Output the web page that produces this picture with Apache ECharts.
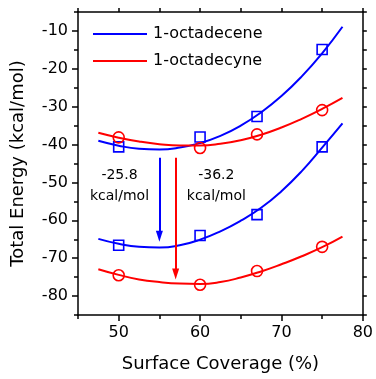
<!DOCTYPE html>
<html>
<head>
	<meta charset="utf-8" />
	<title>Total energy vs surface coverage</title>
	<style type="text/css">
		html, body {
			margin: 0;
			padding: 0;
			background: #fff;
		}

		#main {
			width: 376px;
			height: 379px;
		}
	</style>
	<script src="https://cdn.jsdelivr.net/npm/echarts@6.0.0/dist/echarts.min.js"></script>
</head>
<body>
	<div id="main"></div>
	<script type="text/javascript">

		// fitted curves, every 2.5 %
		const fitX = [47.5, 50, 52.5, 55, 57.5, 60, 62.5, 65, 67.5, 70, 72.5, 75, 77.5];
		const octadeceneTopFit = [-39.0, -40.3, -41.1, -41.3, -40.8, -39.6, -37.7, -35.0, -31.5, -27.2, -22.0, -15.9, -8.9];
		const octadecyneTopFit = [-36.9, -38.2, -39.2, -39.9, -40.25, -40.25, -39.8, -38.85, -37.4, -35.5, -33.2, -30.6, -27.7];
		const octadeceneLowFit = [-64.9, -66.2, -67.0, -67.2, -66.6, -65.1, -62.9, -60.1, -56.7, -52.3, -47.0, -40.8, -34.4];
		const octadecyneLowFit = [-72.9, -74.4, -75.6, -76.3, -76.7, -76.8, -76.3, -75.1, -73.5, -71.6, -69.5, -67.1, -64.3];

		// computed points
		const pointX = [50, 60, 67, 75];
		const octadeceneTop = [-40.6, -38.0, -32.6, -14.9];
		const octadecyneTop = [-38.1, -40.9, -37.3, -30.9];
		const octadeceneLow = [-66.6, -64.0, -58.5, -40.6];
		const octadecyneLow = [-74.5, -77.0, -73.4, -67.0];

		// arrows and their notes
		const blueArrow = [[55, -43.5], [55, -64.2]];
		const redArrow = [[57, -43.5], [57, -74.2]];
		const notes = [
			{ name: '-25.8\nkcal/mol', value: [50.1, -50.9] },
			{ name: '-36.2\nkcal/mol', value: [62.0, -50.9] }
		];

		const xLabels = [50, 60, 70, 80];
		const xMinor = [45, 55, 65, 75];
		const yLabels = [-80, -70, -60, -50, -40, -30, -20, -10];
		const yMinor = [-85, -75, -65, -55, -45, -35, -25, -15, -5];

		const BLUE = '#0000ff';
		const RED = '#ff0000';
		const FONT = 'DejaVu Sans';

		const pair = (xs, ys) => xs.map((x, i) => [x, ys[i]]);

		const fit = (name, color, ys) => ({
			name: name,
			type: 'line',
			data: pair(fitX, ys),
			smooth: true,
			symbol: 'none',
			lineStyle: { color: color, width: 2 },
			itemStyle: { color: color },
			animation: false,
			z: 2
		});

		const points = (name, color, shape, size, ys) => ({
			name: name,
			type: 'scatter',
			data: pair(pointX, ys),
			symbol: shape,
			symbolSize: size,
			itemStyle: { color: 'rgba(0,0,0,0)', borderColor: color, borderWidth: 1.6, opacity: 1 },
			animation: false,
			z: 3
		});

		const arrow = (color, coords) => ({
			type: 'line',
			data: [],
			animation: false,
			markLine: {
				silent: true,
				animation: false,
				symbol: ['none', 'triangle'],
				symbolSize: [7, 11],
				label: { show: false },
				lineStyle: { color: color, width: 2, type: 'solid' },
				data: [[{ coord: coords[0] }, { coord: coords[1] }]]
			}
		});

		const baseAxisLine = { show: true, onZero: false, lineStyle: { color: '#000', width: 1.5 } };

		const options = {
			animation: false,
			grid: { left: 78, right: 11, top: 12, bottom: 64 },
			legend: {
				data: ['1-octadecene', '1-octadecyne'],
				orient: 'vertical',
				left: 93,
				top: 26,
				padding: 0,
				icon: 'rect',
				itemWidth: 54,
				itemHeight: 2,
				itemGap: 11,
				textStyle: { fontFamily: FONT, fontSize: 16, color: '#000', lineHeight: 16, padding: [0, 0, 0, 1] }
			},
			xAxis: [
				{
					type: 'value',
					min: 45,
					max: 80,
					interval: 5,
					position: 'bottom',
					name: 'Surface Coverage (%)',
					nameLocation: 'middle',
					nameGap: 40,
					nameTextStyle: { fontFamily: FONT, fontSize: 18, color: '#000' },
					axisLine: baseAxisLine,
					axisTick: { show: true, inside: false, length: 6, customValues: xLabels, lineStyle: { color: '#000', width: 1.5 } },
					axisLabel: {
						fontFamily: FONT, fontSize: 16, color: '#000', margin: 10,
						customValues: xLabels,
						formatter: (v) => (v % 10 === 0 ? v : '')
					},
					splitLine: { show: false }
				},
				{
					// minor ticks on the bottom
					type: 'value',
					min: 45,
					max: 80,
					position: 'bottom',
					axisLine: { show: false },
					axisTick: { show: true, length: 4, customValues: xMinor, lineStyle: { color: '#000', width: 1.5 } },
					axisLabel: { show: false },
					splitLine: { show: false }
				},
				{
					// mirror frame on top
					type: 'value',
					min: 45,
					max: 80,
					interval: 5,
					position: 'top',
					axisLine: baseAxisLine,
					axisTick: { show: true, length: 4, lineStyle: { color: '#000', width: 1.5 } },
					axisLabel: { show: false },
					splitLine: { show: false }
				}
			],
			yAxis: [
				{
					type: 'value',
					min: -85,
					max: -5,
					interval: 5,
					position: 'left',
					name: 'Total Energy (kcal/mol)',
					nameLocation: 'middle',
					nameGap: 51,
					nameTextStyle: { fontFamily: FONT, fontSize: 18, color: '#000' },
					axisLine: baseAxisLine,
					axisTick: { show: true, length: 6, customValues: yLabels, lineStyle: { color: '#000', width: 1.5 } },
					axisLabel: {
						fontFamily: FONT, fontSize: 16, color: '#000', margin: 10,
						customValues: yLabels,
						formatter: (v) => (v % 10 === 0 ? v : '')
					},
					splitLine: { show: false }
				},
				{
					// minor ticks on the left
					type: 'value',
					min: -85,
					max: -5,
					position: 'left',
					axisLine: { show: false },
					axisTick: { show: true, length: 4, customValues: yMinor, lineStyle: { color: '#000', width: 1.5 } },
					axisLabel: { show: false },
					splitLine: { show: false }
				},
				{
					// mirror frame on the right
					type: 'value',
					min: -85,
					max: -5,
					interval: 5,
					position: 'right',
					axisLine: baseAxisLine,
					axisTick: { show: true, length: 4, lineStyle: { color: '#000', width: 1.5 } },
					axisLabel: { show: false },
					splitLine: { show: false }
				}
			],
			series: [
				fit('1-octadecene', BLUE, octadeceneTopFit),
				fit('1-octadecene', BLUE, octadeceneLowFit),
				fit('1-octadecyne', RED, octadecyneTopFit),
				fit('1-octadecyne', RED, octadecyneLowFit),
				points('octadecene top', BLUE, 'rect', 10, octadeceneTop),
				points('octadecene low', BLUE, 'rect', 10, octadeceneLow),
				points('octadecyne top', RED, 'circle', 11, octadecyneTop),
				points('octadecyne low', RED, 'circle', 11, octadecyneLow),
				arrow(BLUE, blueArrow),
				arrow(RED, redArrow),
				{
					name: 'notes',
					type: 'scatter',
					data: notes,
					symbolSize: 0,
					silent: true,
					itemStyle: { opacity: 1 },
					label: {
						show: true,
						position: 'inside',
						formatter: (p) => p.name,
						fontFamily: FONT,
						fontSize: 14,
						lineHeight: 21,
						color: '#000',
						opacity: 1,
						align: 'center'
					}
				}
			]
		};

		const myChart = echarts.init(document.getElementById('main'), null, { renderer: 'canvas' });
		myChart.setOption(options);

	</script>
</body>
</html>
